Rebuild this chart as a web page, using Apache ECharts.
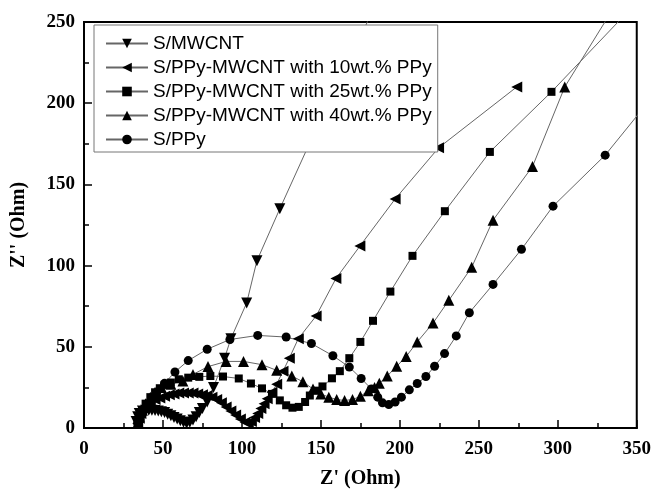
<!DOCTYPE html>
<html>
<head>
<meta charset="utf-8">
<script src="https://cdn.jsdelivr.net/npm/echarts@6/dist/echarts.min.js"></script>
<style>
  html, body { margin: 0; padding: 0; background: #fff; }
  #main { width: 654px; height: 494px; }
</style>
</head>
<body>
<div id="main"></div>
<script>
// Z' / Z'' values (Ohm)
var mwX = [33,34,35,37,39,41,43,45,47,49,51,53,55,57,59,61,63,65,67,69,71,73,75,78,82,89,93,103,109.5,124,145,170,185];
var mwY = [4,7,9,10.5,11,11,11,10.8,10.5,10,9.5,8.5,7.5,6.5,5.5,4.5,3.5,3,3.5,5,7,9.5,12,16,25,43,55,77,103,135,180,230,262];

var p10X = [34,35,36,38,40,42,45,48,51,54,57,60,63,66,69,72,75,78,81,84,87,90,93,96,99,102,104,106,108,110,112,114,116,119,122,126,130,135.7,147,159.5,174.7,197,224.5,274];
var p10Y = [3,6,9,12,14,16,17.5,18.5,19.5,20.5,21,21.5,21.5,21.5,21.5,21,20.5,20,19,17.5,15.5,13,10.5,8,5.5,3.5,3,4,6.5,9,12,15,18,22,27,35,43,55,69,92,112,141,172.5,210];

var p25X = [34,35,37,39,42,45,48,51,55,60,66,73,80,88,98,105.7,112.7,119,124,128,132,136,140,143,147,151,157,162,168,175,183,194,208,228.5,257,296,345];
var p25Y = [3,7,11,15,19,22,24.5,26.5,28,30,31,31.5,32,31.7,30.5,27.4,24.4,21,17,14,12.5,13,16,20,23,25.6,30.6,35,43,53,66,84,106,133.5,170,207,257];

var p40X = [34,35,37,39,42,45,49,55,62.6,69,78.5,90,101,112.7,122,131.6,138.6,145,150,155,160,165,170,175,180,184,187,192,198,204,211,221,231,245.5,259,284,304.4,340];
var p40Y = [3,7,11,15,19,22,25,27,29,33,37.8,41,41,39,35.5,32,28.5,24,21,19,17.5,17,17.5,19.5,23,25,27.5,32,38,44,53,64.6,78.6,99,128,161,210,266];

var ppyX = [34,35,37,40,43,46,51,57.6,66,78,92.4,110,128,144,157.6,168,175.5,182,186,189,193,197,201,206,211,216.5,222,228.3,235.7,244,259,277,297,330,365];
var ppyY = [3,6,10,14,18,21.5,27.5,34.5,41.5,48.5,54.5,57,56,52,44.5,37.5,30.5,24,19,15.5,14.5,16,19,23.5,27.4,31.7,38,45.8,56.7,71,88.4,110,136.6,168,210];

var names = [
  'S/MWCNT',
  'S/PPy-MWCNT with 10wt.% PPy',
  'S/PPy-MWCNT with 25wt.% PPy',
  'S/PPy-MWCNT with 40wt.% PPy',
  'S/PPy'
];

function pairs(xs, ys) {
  return xs.map(function (x, i) { return [x, ys[i]]; });
}

var chart = echarts.init(document.getElementById('main'));

function mk(name, xs, ys, symbol, size) {
  return {
    name: name,
    type: 'line',
    data: pairs(xs, ys),
    symbol: symbol,
    symbolSize: size,
    showAllSymbol: true,
    lineStyle: { color: '#666', width: 1 },
    itemStyle: { color: '#000' },
    clip: true
  };
}

var axisFont = { fontFamily: 'Liberation Serif', fontWeight: 'bold', fontSize: 19, color: '#000' };

var option = {
  animation: false,
  backgroundColor: '#fff',
  grid: {
    left: 84, right: 17, top: 22, bottom: 62,
    show: true, borderColor: '#000', borderWidth: 2
  },
  legend: {
    orient: 'vertical',
    left: 94, top: 25,
    padding: [9, 6, 3, 11],
    itemGap: 5,
    itemWidth: 42,
    itemHeight: 12,
    backgroundColor: '#fff',
    borderColor: '#777',
    borderWidth: 1,
    textStyle: { fontFamily: 'Liberation Sans', fontSize: 19, color: '#000' },
    data: names
  },
  xAxis: {
    type: 'value', min: 0, max: 350, interval: 50,
    name: "Z' (Ohm)", nameLocation: 'middle', nameGap: 41,
    nameTextStyle: { fontFamily: 'Liberation Serif', fontWeight: 'bold', fontSize: 20, color: '#000' },
    axisLine: { show: true, lineStyle: { color: '#000', width: 2 } },
    axisTick: { inside: true, length: 8, lineStyle: { color: '#000', width: 1.5 } },
    minorTick: { show: true, splitNumber: 2, length: 5, lineStyle: { color: '#000', width: 1.5 } },
    splitLine: { show: false },
    axisLabel: Object.assign({ margin: 12 }, axisFont)
  },
  yAxis: {
    type: 'value', min: 0, max: 250, interval: 50,
    name: "Z'' (Ohm)", nameLocation: 'middle', nameGap: 55,
    nameTextStyle: { fontFamily: 'Liberation Serif', fontWeight: 'bold', fontSize: 20, color: '#000' },
    axisLine: { show: true, lineStyle: { color: '#000', width: 2 } },
    axisTick: { inside: true, length: 8, lineStyle: { color: '#000', width: 1.5 } },
    minorTick: { show: true, splitNumber: 2, length: 5, lineStyle: { color: '#000', width: 1.5 } },
    splitLine: { show: false },
    axisLabel: Object.assign({ margin: 9 }, axisFont)
  },
  series: [
    mk(names[0], mwX, mwY, 'path://M0,0L10,0L5,10Z', 11),
    mk(names[1], p10X, p10Y, 'path://M10,0L10,10L0,5Z', 11),
    mk(names[2], p25X, p25Y, 'rect', 8),
    mk(names[3], p40X, p40Y, 'triangle', 11),
    mk(names[4], ppyX, ppyY, 'circle', 9)
  ]
};

chart.setOption(option);
</script>
</body>
</html>
